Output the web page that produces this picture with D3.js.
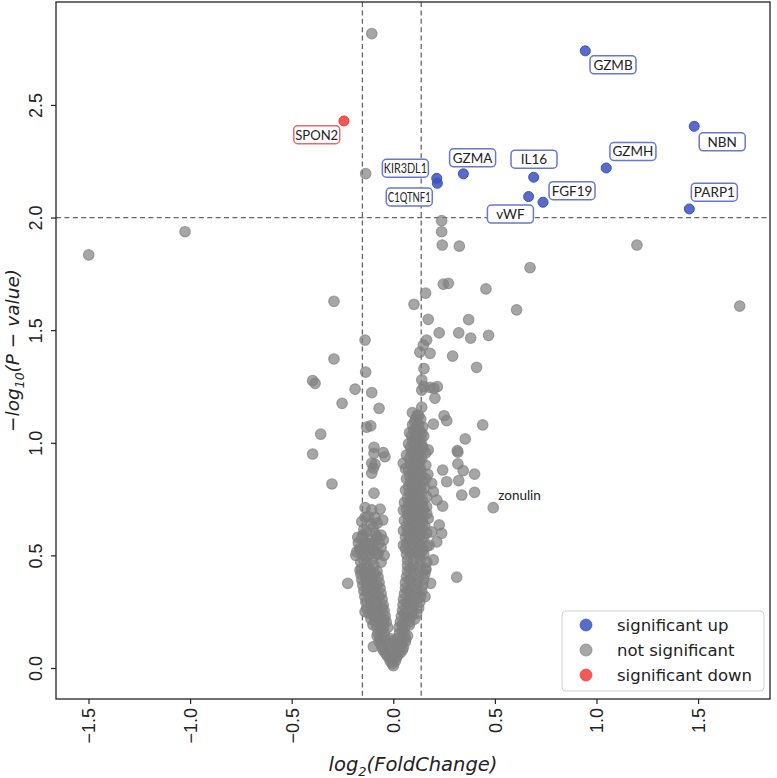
<!DOCTYPE html>
<html><head><meta charset="utf-8">
<script src="https://cdn.jsdelivr.net/npm/d3@7"></script>
<style>body{margin:0;background:#fff}svg{display:block}</style>
</head><body>
<svg id="chart" width="777" height="778"></svg>
<script>
// ---------------- data ----------------
const upGenes = ["GZMB","NBN","GZMH","IL16","FGF19","vWF","PARP1","GZMA","KIR3DL1","C1QTNF1"];
const upFC    = [0.945, 1.481, 1.048, 0.691, 0.737, 0.666, 1.457, 0.345, 0.214, 0.217];
const upP     = [2.740, 2.405, 2.220, 2.179, 2.068, 2.093, 2.038, 2.194, 2.174, 2.152];
const downGenes = ["SPON2"];
const downFC    = [-0.243];
const downP     = [2.429];
const extraLabelGene = "zonulin";
const extraLabelFC = 0.492, extraLabelP = 0.712;
const xTicks = [-1.5, -1.0, -0.5, 0.0, 0.5, 1.0, 1.5];
const yTicks = [0.0, 0.5, 1.0, 1.5, 2.0, 2.5];
const fcCut = [Math.log2(0.9), Math.log2(1.1)];
const pCut = 2.0;
const legendLabels = ["significant up", "not significant", "significant down"];
// not significant points: [log2FC, -log10 p]
const notSig = [
[-0.106,2.817],[-1.499,1.834],[-1.025,1.937],[-0.136,2.195],
[0.238,1.986],[0.238,1.937],[0.241,1.878],[0.325,1.873],[1.199,1.878],[1.705,1.607],
[0.673,1.778],[0.246,1.704],[0.271,1.708],[0.456,1.683],[0.159,1.664],[-0.292,1.628],[0.102,1.615],[0.607,1.590],
[0.172,1.548],[0.371,1.547],[0.226,1.488],[0.322,1.488],[0.381,1.465],[0.469,1.477],[-0.139,1.456],[0.164,1.456],
[0.148,1.434],[0.131,1.402],[0.181,1.397],[0.292,1.385],[-0.292,1.372],[0.410,1.335],[0.151,1.329],[-0.136,1.314],
[-0.397,1.276],[-0.385,1.264],[0.140,1.279],[-0.188,1.238],[0.151,1.249],[0.181,1.246],[0.217,1.249],[0.200,1.242],[0.140,1.234],
[-0.106,1.223],[0.205,1.198],[-0.252,1.175],[-0.070,1.153],[0.140,1.158],[0.094,1.134],[0.118,1.123],[0.250,1.120],[0.263,1.098],
[0.197,1.083],[0.440,1.079],[-0.357,1.038],[-0.131,1.069],[-0.111,1.075],[0.354,1.017],
[-0.095,0.980],[-0.049,0.956],[-0.041,0.938],[-0.095,0.953],[-0.397,0.950],[0.315,0.965],[0.318,0.958],[0.318,0.906],
[-0.106,0.909],[-0.090,0.905],[-0.098,0.887],[-0.106,0.865],[0.344,0.876],[0.400,0.861],[0.243,0.879],[0.263,0.827],[0.322,0.832],
[-0.302,0.817],[0.189,0.820],[0.197,0.783],[0.337,0.768],[0.400,0.780],[-0.095,0.776],[0.214,0.746],[0.243,0.719],[0.492,0.712],
[-0.139,0.712],[-0.106,0.702],[-0.065,0.705],[-0.139,0.669],[-0.090,0.669],[-0.052,0.657],[-0.079,0.643],
[0.164,0.716],[0.172,0.664],[0.226,0.635],[0.238,0.598],[0.189,0.604],[0.214,0.560],[0.177,0.545],[0.197,0.480],
[0.160,0.435],[0.184,0.376],[0.156,0.317],[0.312,0.403],[-0.224,0.376],[-0.164,0.435],[-0.180,0.516],[-0.139,0.250],[-0.098,0.095],
[-0.079,0.583],[-0.148,0.591],[-0.172,0.556],[-0.164,0.524],[-0.115,0.539],[-0.074,0.509],
[-0.123,0.672],[-0.098,0.627],[-0.131,0.605],[-0.090,0.598],[-0.131,0.554],[-0.098,0.554],[-0.049,0.568],
[0.049,0.909],[0.172,0.968],[0.050,0.700],[0.170,0.860],
[-0.060,0.470],[-0.045,0.500],[-0.130,0.490],[-0.185,0.500],[-0.095,0.520],[-0.060,0.535],[-0.140,0.545],
[-0.115,0.570],[-0.175,0.580],[-0.060,0.590],[-0.145,0.615],[-0.110,0.640],[-0.155,0.650],
[0.000,0.010],[-0.005,0.020],
[-0.015,0.030],[0.010,0.030],[-0.020,0.045],[0.015,0.045],
[-0.030,0.055],[-0.005,0.055],[0.020,0.055],[-0.040,0.068],[0.035,0.068],
[-0.050,0.080],[-0.025,0.080],[0.000,0.080],[0.025,0.080],[0.045,0.080],[-0.055,0.093],[0.050,0.093],
[-0.060,0.105],[-0.035,0.105],[-0.010,0.105],[0.015,0.105],[0.040,0.105],[-0.070,0.118],[0.060,0.118],[0.000,0.120],
[-0.065,0.130],[-0.040,0.130],[-0.015,0.130],[0.020,0.130],[0.045,0.130],[0.060,0.130],[-0.080,0.143],[0.070,0.143],
[-0.075,0.155],[-0.045,0.155],[0.030,0.155],[0.055,0.155],[-0.060,0.165],[0.045,0.165],
[-0.080,0.180],[-0.050,0.180],[-0.028,0.180],[-0.100,0.192],[-0.065,0.192],
[-0.090,0.205],[-0.060,0.205],[-0.035,0.205],[-0.110,0.217],[-0.045,0.217],
[-0.095,0.230],[-0.065,0.230],[-0.040,0.230],[-0.120,0.242],[-0.075,0.242],
[-0.105,0.255],[-0.075,0.255],[-0.045,0.255],[-0.130,0.267],[-0.055,0.267],
[-0.110,0.280],[-0.080,0.280],[-0.050,0.280],[-0.135,0.292],[-0.090,0.292],
[-0.115,0.305],[-0.085,0.305],[-0.055,0.305],[-0.140,0.317],[-0.070,0.317],
[-0.120,0.330],[-0.090,0.330],[-0.060,0.330],[-0.145,0.342],[-0.100,0.342],
[-0.125,0.355],[-0.095,0.355],[-0.065,0.355],[-0.150,0.367],[-0.080,0.367],
[-0.130,0.380],[-0.100,0.380],[-0.070,0.380],[-0.155,0.392],[-0.115,0.392],
[-0.135,0.405],[-0.105,0.405],[-0.075,0.405],[-0.160,0.417],[-0.090,0.417],
[-0.140,0.430],[-0.110,0.430],[-0.080,0.430],[-0.155,0.442],[-0.120,0.442],
[-0.130,0.455],[-0.095,0.455],[-0.160,0.470],
[-0.145,0.480],[-0.105,0.480],
[-0.150,0.505],[-0.115,0.505],[-0.080,0.505],
[-0.165,0.530],[-0.120,0.530],
[-0.140,0.555],[-0.100,0.555],[-0.070,0.555],
[-0.155,0.580],[-0.080,0.580],
[0.028,0.180],[0.055,0.180],[0.045,0.192],[0.080,0.192],
[0.035,0.205],[0.060,0.205],[0.080,0.205],[0.105,0.217],
[0.040,0.230],[0.065,0.230],[0.090,0.230],[0.055,0.242],[0.115,0.242],
[0.045,0.255],[0.070,0.255],[0.095,0.255],[0.125,0.267],
[0.048,0.280],[0.075,0.280],[0.100,0.280],[0.065,0.292],[0.130,0.292],
[0.050,0.305],[0.080,0.305],[0.105,0.305],[0.135,0.317],
[0.055,0.330],[0.085,0.330],[0.110,0.330],[0.070,0.342],[0.140,0.342],
[0.060,0.355],[0.090,0.355],[0.115,0.355],[0.145,0.367],
[0.060,0.380],[0.090,0.380],[0.120,0.380],[0.080,0.392],[0.150,0.392],
[0.065,0.405],[0.095,0.405],[0.125,0.405],[0.155,0.417],
[0.070,0.430],[0.100,0.430],[0.130,0.430],[0.085,0.442],[0.160,0.442],
[0.070,0.455],[0.100,0.455],[0.130,0.455],[0.165,0.470],
[0.070,0.480],[0.100,0.480],[0.135,0.480],
[0.065,0.505],[0.095,0.505],[0.125,0.505],[0.150,0.505],[0.080,0.517],[0.110,0.517],[0.140,0.517],
[0.060,0.530],[0.090,0.530],[0.120,0.530],[0.145,0.530],[0.165,0.540],[0.050,0.545],
[0.065,0.555],[0.095,0.555],[0.125,0.555],[0.080,0.567],[0.110,0.567],[0.140,0.567],
[0.060,0.580],[0.090,0.580],[0.120,0.580],[0.150,0.580],[0.075,0.592],[0.105,0.592],[0.135,0.592],[0.165,0.600],
[0.070,0.605],[0.100,0.605],[0.130,0.605],[0.050,0.610],[0.080,0.617],[0.110,0.617],[0.140,0.617],
[0.065,0.630],[0.095,0.630],[0.125,0.630],[0.155,0.630],[0.085,0.642],[0.115,0.642],[0.145,0.642],
[0.075,0.655],[0.105,0.655],[0.135,0.655],[0.055,0.655],[0.085,0.667],[0.115,0.667],[0.145,0.667],
[0.070,0.680],[0.100,0.680],[0.130,0.680],[0.165,0.685],[0.080,0.692],[0.110,0.692],[0.140,0.692],
[0.065,0.705],[0.095,0.705],[0.125,0.705],[0.150,0.705],[0.085,0.717],[0.115,0.717],[0.145,0.717],
[0.075,0.730],[0.105,0.730],[0.135,0.730],[0.055,0.735],[0.085,0.742],[0.115,0.742],[0.145,0.742],
[0.070,0.755],[0.100,0.755],[0.130,0.755],[0.165,0.760],[0.090,0.767],[0.120,0.767],
[0.080,0.780],[0.110,0.780],[0.140,0.780],[0.060,0.790],[0.095,0.792],[0.125,0.792],[0.155,0.800],
[0.075,0.805],[0.105,0.805],[0.135,0.805],[0.090,0.817],[0.120,0.817],
[0.085,0.830],[0.115,0.830],[0.145,0.830],[0.065,0.840],[0.100,0.842],[0.130,0.842],[0.160,0.840],
[0.080,0.855],[0.110,0.855],[0.140,0.855],[0.095,0.867],[0.125,0.867],
[0.075,0.880],[0.105,0.880],[0.135,0.880],[0.060,0.885],[0.100,0.892],[0.130,0.892],[0.160,0.900],
[0.085,0.905],[0.115,0.905],[0.100,0.917],[0.130,0.917],
[0.080,0.930],[0.110,0.930],[0.140,0.930],[0.065,0.945],[0.100,0.942],[0.130,0.942],[0.160,0.955],
[0.090,0.955],[0.120,0.955],[0.100,0.967],[0.130,0.967],
[0.085,0.980],[0.115,0.980],[0.145,0.980],[0.075,0.995],[0.110,0.992],[0.140,0.992],
[0.095,1.005],[0.125,1.005],[0.105,1.017],[0.135,1.017],
[0.090,1.030],[0.120,1.030],[0.150,1.030],[0.080,1.045],[0.110,1.042],[0.140,1.042],
[0.100,1.055],[0.130,1.055],[0.115,1.067],[0.145,1.070],
[0.095,1.080],[0.125,1.080],[0.105,1.093],
[0.110,1.105],[0.135,1.105],[0.125,1.120]
];

// ---------------- layout / style ----------------
const labelOffsets = {
  GZMB:[27.7,14], NBN:[28,15.5], GZMH:[26.7,-16.5], IL16:[0.3,-18], FGF19:[29,-11.5],
  vWF:[-18.2,17.5], PARP1:[25,-16.8], GZMA:[9.2,-16], KIR3DL1:[-31.4,-10.1],
  C1QTNF1:[-28.1,13.7], SPON2:[-27.2,13.8]
};
const colUp = "#3a52bf", colNS = "#808080", colDown = "#f03c3c";
const boxUp = "#6678cf", boxDown = "#e86a6a";

const svg = d3.select("#chart");
const L = 56, R = 770, T = 2, B = 699;
const x = d3.scaleLinear().domain([-1.66, 1.854]).range([L, R]);
const y = d3.scaleLinear().domain([-0.1377, 2.957]).range([B, T]);

// threshold lines
const dash = "5,3.4";
svg.selectAll("line.v").data(fcCut).join("line")
  .attr("x1", d => x(d)).attr("x2", d => x(d)).attr("y1", T).attr("y2", B)
  .attr("stroke", "#666").attr("stroke-width", 1.3).attr("stroke-dasharray", dash);
svg.append("line").attr("x1", L).attr("x2", R).attr("y1", y(pCut)).attr("y2", y(pCut))
  .attr("stroke", "#666").attr("stroke-width", 1.3).attr("stroke-dasharray", dash);

// points
svg.append("g").selectAll("circle").data(notSig).join("circle")
  .attr("cx", d => x(d[0])).attr("cy", d => y(d[1])).attr("r", 5.3)
  .attr("fill", colNS).attr("fill-opacity", 0.7)
  .attr("stroke", colNS).attr("stroke-opacity", 0.7).attr("stroke-width", 1.1);

const up = upGenes.map((g, i) => ({g, fc: upFC[i], p: upP[i], col: colUp, box: boxUp}));
const down = downGenes.map((g, i) => ({g, fc: downFC[i], p: downP[i], col: colDown, box: boxDown}));
const sig = up.concat(down);
svg.append("g").selectAll("circle").data(sig).join("circle")
  .attr("cx", d => x(d.fc)).attr("cy", d => y(d.p)).attr("r", 5)
  .attr("fill", d => d.col).attr("fill-opacity", 0.85)
  .attr("stroke", d => d.col).attr("stroke-width", 1);

// labels
const lab = svg.append("g").selectAll("g").data(sig).join("g")
  .attr("transform", d => `translate(${x(d.fc) + labelOffsets[d.g][0]},${y(d.p) + labelOffsets[d.g][1]})`);
lab.append("rect").attr("x", -23).attr("y", -9).attr("width", 46).attr("height", 18).attr("rx", 4)
  .attr("fill", "#fff").attr("stroke", d => d.box).attr("stroke-width", 1.5);
lab.append("text").attr("text-anchor", "middle").attr("dy", "0.36em")
  .attr("font-family", "Lato, 'Open Sans', sans-serif").attr("font-size", 13.5).attr("fill", "#222")
  .text(d => d.g)
  .each(function() { const w = this.getComputedTextLength(); if (w > 43) d3.select(this).attr("textLength", 43).attr("lengthAdjust", "spacingAndGlyphs"); });

svg.append("text").attr("x", x(extraLabelFC) + 5).attr("y", y(extraLabelP) - 12).attr("dy", "0.35em")
  .attr("font-family", "Lato, 'Open Sans', sans-serif").attr("font-size", 13.5).attr("fill", "#222")
  .text(extraLabelGene);

// axes
const fmt = d3.format(".1f");
const gx = svg.append("g").attr("transform", `translate(0,${B})`)
  .call(d3.axisBottom(x).tickValues(xTicks).tickSize(5).tickFormat(fmt));
gx.select(".domain").remove();
gx.selectAll(".tick line").attr("stroke", "#222").attr("stroke-width", 1.2);
gx.selectAll(".tick text").attr("transform", "rotate(-90)").attr("text-anchor", "end")
  .attr("x", -9).attr("y", 0).attr("dy", "0.36em")
  .attr("font-family", "'Liberation Sans', Arial, sans-serif").attr("font-size", 18).attr("fill", "#222");

const gy = svg.append("g").attr("transform", `translate(${L},0)`)
  .call(d3.axisLeft(y).tickValues(yTicks).tickSize(5).tickFormat(fmt));
gy.select(".domain").remove();
gy.selectAll(".tick line").attr("stroke", "#222").attr("stroke-width", 1.2);
gy.selectAll(".tick text").attr("transform", "rotate(-90)").attr("text-anchor", "middle")
  .attr("x", 0).attr("y", -14).attr("dy", 0)
  .attr("font-family", "'Liberation Sans', Arial, sans-serif").attr("font-size", 18).attr("fill", "#222");

// frame
svg.append("rect").attr("x", L).attr("y", T).attr("width", R - L).attr("height", B - T)
  .attr("fill", "none").attr("stroke", "#222").attr("stroke-width", 1.3);

// axis titles
const xl = svg.append("text").attr("x", (L + R) / 2).attr("y", 771).attr("text-anchor", "middle")
  .attr("font-family", "'DejaVu Sans', sans-serif").attr("font-style", "italic").attr("font-size", 19.5).attr("fill", "#222");
xl.append("tspan").text("log");
xl.append("tspan").attr("font-size", 13).attr("dy", 5).text("2");
xl.append("tspan").attr("dy", -5).text("(FoldChange)");

const yl = svg.append("text").attr("transform", `translate(19,${(T + B) / 2}) rotate(-90)`).attr("text-anchor", "middle")
  .attr("font-family", "'DejaVu Sans', sans-serif").attr("font-style", "italic").attr("font-size", 18.5).attr("fill", "#222");
yl.append("tspan").attr("font-style", "normal").text("−");
yl.append("tspan").text("log");
yl.append("tspan").attr("font-size", 12.5).attr("dy", 5).text("10");
yl.append("tspan").attr("dy", -5).text("(P ");
yl.append("tspan").attr("font-style", "normal").text("−");
yl.append("tspan").text(" value)");

// legend
const lg = svg.append("g");
lg.append("rect").attr("x", 562).attr("y", 611).attr("width", 202).attr("height", 80).attr("rx", 4)
  .attr("fill", "#fff").attr("fill-opacity", 0.85).attr("stroke", "#d0d0d0").attr("stroke-width", 1);
const legCols = [colUp, colNS, colDown];
const li = lg.selectAll("g.it").data(legendLabels).join("g")
  .attr("transform", (d, i) => `translate(586,${625 + i * 25})`);
li.append("circle").attr("r", 6).attr("fill", (d, i) => legCols[i]).attr("fill-opacity", (d, i) => i === 1 ? 0.7 : 0.85)
  .attr("stroke", (d, i) => legCols[i]).attr("stroke-opacity", 0.7);
li.append("text").attr("x", 31).attr("dy", "0.35em").attr("font-family", "'DejaVu Sans', sans-serif")
  .attr("font-size", 16.5).attr("fill", "#222").text(d => d);
</script>
</body></html>
